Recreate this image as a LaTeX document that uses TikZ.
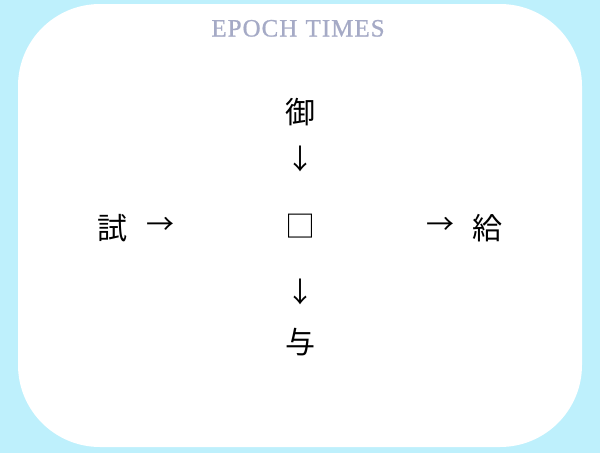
\documentclass[tikz,border=0pt]{standalone}
\usepackage{fontspec}
\newfontfamily\cjk{Noto Sans CJK JP}
\newfontfamily\logofont[LetterSpace=4,FakeBold=0.8]{Liberation Serif}
\definecolor{bgcyan}{RGB}{190,240,252}
\definecolor{logogray}{RGB}{165,170,198}
\tikzset{
  glyph/.style={inner sep=0pt, font=\cjk\fontsize{30}{30}\selectfont},
  arrowglyph/.style={inner sep=0pt, font=\cjk\fontsize{28}{28}\selectfont},
}
\begin{document}
\begin{tikzpicture}[x=1pt,y=-1pt]
\useasboundingbox (0,0) rectangle (600,453);
\fill[bgcyan] (0,0) rectangle (600,453);
\fill[white, rounded corners=82pt] (18,4) rectangle (582,447);
\node[inner sep=0pt, text=logogray, font=\logofont\fontsize{25}{25}\selectfont, anchor=base] (logo) at (298,36.5)
  {EPOCH\hspace{1pt} TIMES};
\node[glyph] (top) at (300,112) {御};
\node[arrowglyph] (d1) at (300,159) {↓};
\node[glyph] (mid) at (300,226) {□};
\node[arrowglyph] (d2) at (300,292) {↓};
\node[glyph] (bot) at (300,342) {与};
\node[glyph] (left) at (112,228) {試};
\node[arrowglyph] (r1) at (160,226) {→};
\node[arrowglyph] (r2) at (440,226) {→};
\node[glyph] (right) at (487,228) {給};
\end{tikzpicture}
\end{document}
